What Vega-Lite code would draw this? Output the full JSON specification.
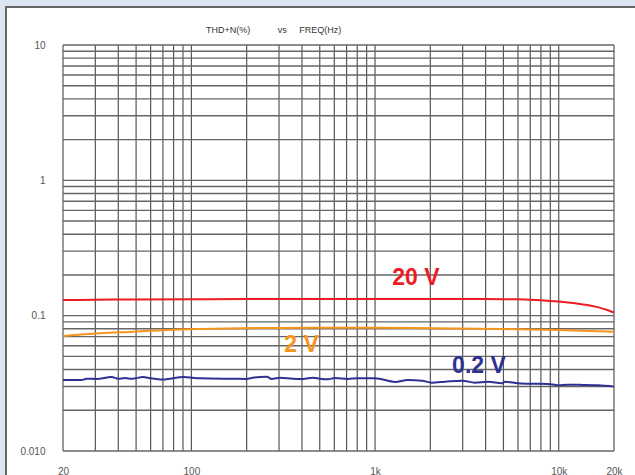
{
  "$schema": "https://vega.github.io/schema/vega-lite/v6.json",
  "width": 551,
  "height": 406,
  "autosize": {"type": "none"},
  "padding": {"left": 63, "top": 45, "right": 21, "bottom": 24},
  "background": "#dbe5f1",
  "config": {"view": {"stroke": null}, "font": "Liberation Sans"},
  "title": {
    "text": "THD+N(%)\u00a0\u00a0\u00a0\u00a0\u00a0\u00a0\u00a0\u00a0\u00a0\u00a0\u00a0vs\u00a0\u00a0\u00a0\u00a0\u00a0FREQ(Hz)",
    "anchor": "start",
    "frame": "group",
    "dx": 143,
    "dy": 49,
    "offset": 11,
    "baseline": "bottom",
    "fontSize": 9,
    "fontWeight": "normal",
    "color": "#333333",
    "font": "Liberation Sans"
  },
  "datasets": {
    "curves": [
      {"f": 20, "v": 0.1306, "s": "20 V"},
      {"f": 30, "v": 0.131, "s": "20 V"},
      {"f": 50, "v": 0.1318, "s": "20 V"},
      {"f": 100, "v": 0.1322, "s": "20 V"},
      {"f": 200, "v": 0.1326, "s": "20 V"},
      {"f": 500, "v": 0.1329, "s": "20 V"},
      {"f": 1000, "v": 0.133, "s": "20 V"},
      {"f": 2000, "v": 0.133, "s": "20 V"},
      {"f": 4000, "v": 0.1328, "s": "20 V"},
      {"f": 5000, "v": 0.1325, "s": "20 V"},
      {"f": 6000, "v": 0.132, "s": "20 V"},
      {"f": 7000, "v": 0.1311, "s": "20 V"},
      {"f": 8000, "v": 0.1299, "s": "20 V"},
      {"f": 9000, "v": 0.1285, "s": "20 V"},
      {"f": 10000, "v": 0.127, "s": "20 V"},
      {"f": 11000, "v": 0.1254, "s": "20 V"},
      {"f": 12000, "v": 0.1238, "s": "20 V"},
      {"f": 13000, "v": 0.1221, "s": "20 V"},
      {"f": 14000, "v": 0.1203, "s": "20 V"},
      {"f": 15000, "v": 0.1183, "s": "20 V"},
      {"f": 16000, "v": 0.1161, "s": "20 V"},
      {"f": 17000, "v": 0.1137, "s": "20 V"},
      {"f": 18000, "v": 0.1111, "s": "20 V"},
      {"f": 19000, "v": 0.1083, "s": "20 V"},
      {"f": 20000, "v": 0.1052, "s": "20 V"},
      {"f": 20, "v": 0.0708, "s": "2 V"},
      {"f": 31.8, "v": 0.0741, "s": "2 V"},
      {"f": 48.3, "v": 0.0762, "s": "2 V"},
      {"f": 73.3, "v": 0.0784, "s": "2 V"},
      {"f": 111, "v": 0.0797, "s": "2 V"},
      {"f": 257, "v": 0.0811, "s": "2 V"},
      {"f": 501, "v": 0.0815, "s": "2 V"},
      {"f": 1000, "v": 0.0815, "s": "2 V"},
      {"f": 2041, "v": 0.0808, "s": "2 V"},
      {"f": 4910, "v": 0.0797, "s": "2 V"},
      {"f": 9900, "v": 0.0784, "s": "2 V"},
      {"f": 20000, "v": 0.0762, "s": "2 V"},
      {"f": 20, "v": 0.0335, "s": "0.2 V"},
      {"f": 25.3, "v": 0.0335, "s": "0.2 V"},
      {"f": 26.9, "v": 0.0342, "s": "0.2 V"},
      {"f": 30.5, "v": 0.0341, "s": "0.2 V"},
      {"f": 36.8, "v": 0.0352, "s": "0.2 V"},
      {"f": 40, "v": 0.0342, "s": "0.2 V"},
      {"f": 43.5, "v": 0.0346, "s": "0.2 V"},
      {"f": 47.3, "v": 0.0342, "s": "0.2 V"},
      {"f": 54.7, "v": 0.0352, "s": "0.2 V"},
      {"f": 59.5, "v": 0.0345, "s": "0.2 V"},
      {"f": 70.3, "v": 0.0337, "s": "0.2 V"},
      {"f": 76.5, "v": 0.0342, "s": "0.2 V"},
      {"f": 90.4, "v": 0.0352, "s": "0.2 V"},
      {"f": 111, "v": 0.0345, "s": "0.2 V"},
      {"f": 168, "v": 0.0342, "s": "0.2 V"},
      {"f": 200, "v": 0.0341, "s": "0.2 V"},
      {"f": 216, "v": 0.0348, "s": "0.2 V"},
      {"f": 257, "v": 0.0354, "s": "0.2 V"},
      {"f": 274, "v": 0.0341, "s": "0.2 V"},
      {"f": 304, "v": 0.0348, "s": "0.2 V"},
      {"f": 357, "v": 0.0342, "s": "0.2 V"},
      {"f": 405, "v": 0.0341, "s": "0.2 V"},
      {"f": 459, "v": 0.0348, "s": "0.2 V"},
      {"f": 501, "v": 0.0342, "s": "0.2 V"},
      {"f": 554, "v": 0.0339, "s": "0.2 V"},
      {"f": 605, "v": 0.0346, "s": "0.2 V"},
      {"f": 712, "v": 0.0341, "s": "0.2 V"},
      {"f": 807, "v": 0.0345, "s": "0.2 V"},
      {"f": 999, "v": 0.0345, "s": "0.2 V"},
      {"f": 1284, "v": 0.0324, "s": "0.2 V"},
      {"f": 1510, "v": 0.0335, "s": "0.2 V"},
      {"f": 1801, "v": 0.0331, "s": "0.2 V"},
      {"f": 2041, "v": 0.032, "s": "0.2 V"},
      {"f": 2403, "v": 0.0325, "s": "0.2 V"},
      {"f": 2972, "v": 0.0331, "s": "0.2 V"},
      {"f": 3500, "v": 0.032, "s": "0.2 V"},
      {"f": 4121, "v": 0.0325, "s": "0.2 V"},
      {"f": 4910, "v": 0.0317, "s": "0.2 V"},
      {"f": 5096, "v": 0.0325, "s": "0.2 V"},
      {"f": 6000, "v": 0.0317, "s": "0.2 V"},
      {"f": 7148, "v": 0.0314, "s": "0.2 V"},
      {"f": 8735, "v": 0.0313, "s": "0.2 V"},
      {"f": 9908, "v": 0.0306, "s": "0.2 V"},
      {"f": 11224, "v": 0.0309, "s": "0.2 V"},
      {"f": 13384, "v": 0.0308, "s": "0.2 V"},
      {"f": 16350, "v": 0.0306, "s": "0.2 V"},
      {"f": 20000, "v": 0.0299, "s": "0.2 V"}
    ],
    "vgrid": [
      {"f": 20}, {"f": 30}, {"f": 40}, {"f": 50}, {"f": 60}, {"f": 70}, {"f": 80}, {"f": 90},
      {"f": 100}, {"f": 200}, {"f": 300}, {"f": 400}, {"f": 500}, {"f": 600}, {"f": 700}, {"f": 800}, {"f": 900},
      {"f": 1000}, {"f": 2000}, {"f": 3000}, {"f": 4000}, {"f": 5000}, {"f": 6000}, {"f": 7000}, {"f": 8000}, {"f": 9000},
      {"f": 10000}, {"f": 20000}
    ],
    "hgrid": [
      {"v": 0.01}, {"v": 0.02}, {"v": 0.03}, {"v": 0.04}, {"v": 0.05}, {"v": 0.06}, {"v": 0.07}, {"v": 0.08}, {"v": 0.09},
      {"v": 0.1}, {"v": 0.2}, {"v": 0.3}, {"v": 0.4}, {"v": 0.5}, {"v": 0.6}, {"v": 0.7}, {"v": 0.8}, {"v": 0.9},
      {"v": 1}, {"v": 2}, {"v": 3}, {"v": 4}, {"v": 5}, {"v": 6}, {"v": 7}, {"v": 8}, {"v": 9},
      {"v": 10}
    ],
    "labels": [
      {"f": 1670, "v": 0.19, "s": "20 V"},
      {"f": 398, "v": 0.0602, "s": "2 V"},
      {"f": 3680, "v": 0.0425, "s": "0.2 V"}
    ]
  },
  "layer": [
    {
      "data": {"values": [{"k": "panel"}]},
      "mark": {"type": "rect", "fill": "#ffffff", "stroke": "#666666", "strokeWidth": 2},
      "encoding": {
        "x": {"value": -57},
        "x2": {"value": 575},
        "y": {"value": -38},
        "y2": {"value": 434}
      }
    },
    {
      "data": {"name": "vgrid"},
      "mark": {"type": "rule", "color": "#555555", "strokeWidth": 1.2},
      "encoding": {
        "x": {"field": "f", "type": "quantitative",
              "scale": {"type": "log", "domain": [20, 20000], "nice": false},
              "axis": {
                "values": [20, 100, 1000, 10000, 20000],
                "labelExpr": "datum.value >= 1000 ? (datum.value / 1000) + 'k' : '' + datum.value",
                "title": null, "grid": false, "domain": false, "ticks": false,
                "labelFlush": false, "labelOverlap": false, "labelBound": false,
                "labelPadding": 15, "labelFontSize": 10, "labelColor": "#555555",
                "labelFont": "Liberation Sans", "labelBaseline": "top", "zindex": 1
              }}
      }
    },
    {
      "data": {"name": "hgrid"},
      "mark": {"type": "rule", "color": "#666666", "strokeWidth": 1.4},
      "encoding": {
        "y": {"field": "v", "type": "quantitative",
              "scale": {"type": "log", "domain": [0.01, 10], "nice": false},
              "axis": {
                "values": [0.01, 0.1, 1, 10],
                "labelExpr": "datum.value < 0.05 ? '0.010' : datum.value < 0.5 ? '0.1' : datum.value < 5 ? '1' : '10'",
                "title": null, "grid": false, "domain": false, "ticks": false,
                "labelFlush": false, "labelOverlap": false, "labelBound": false,
                "labelPadding": 18, "labelFontSize": 10, "labelColor": "#555555",
                "labelFont": "Liberation Sans", "zindex": 1
              }}
      }
    },
    {
      "data": {"name": "curves"},
      "mark": {"type": "line", "strokeWidth": 2, "interpolate": "monotone"},
      "encoding": {
        "x": {"field": "f", "type": "quantitative"},
        "y": {"field": "v", "type": "quantitative"},
        "color": {"field": "s", "type": "nominal",
                  "scale": {"domain": ["20 V", "2 V", "0.2 V"], "range": ["#ed1c24", "#f7941d", "#2e3192"]},
                  "legend": null}
      }
    },
    {
      "data": {"name": "labels"},
      "mark": {"type": "text", "fontSize": 23, "fontWeight": "bold", "font": "Liberation Sans", "align": "center", "baseline": "middle"},
      "encoding": {
        "x": {"field": "f", "type": "quantitative"},
        "y": {"field": "v", "type": "quantitative"},
        "text": {"field": "s"},
        "color": {"field": "s", "type": "nominal", "legend": null}
      }
    }
  ]
}
